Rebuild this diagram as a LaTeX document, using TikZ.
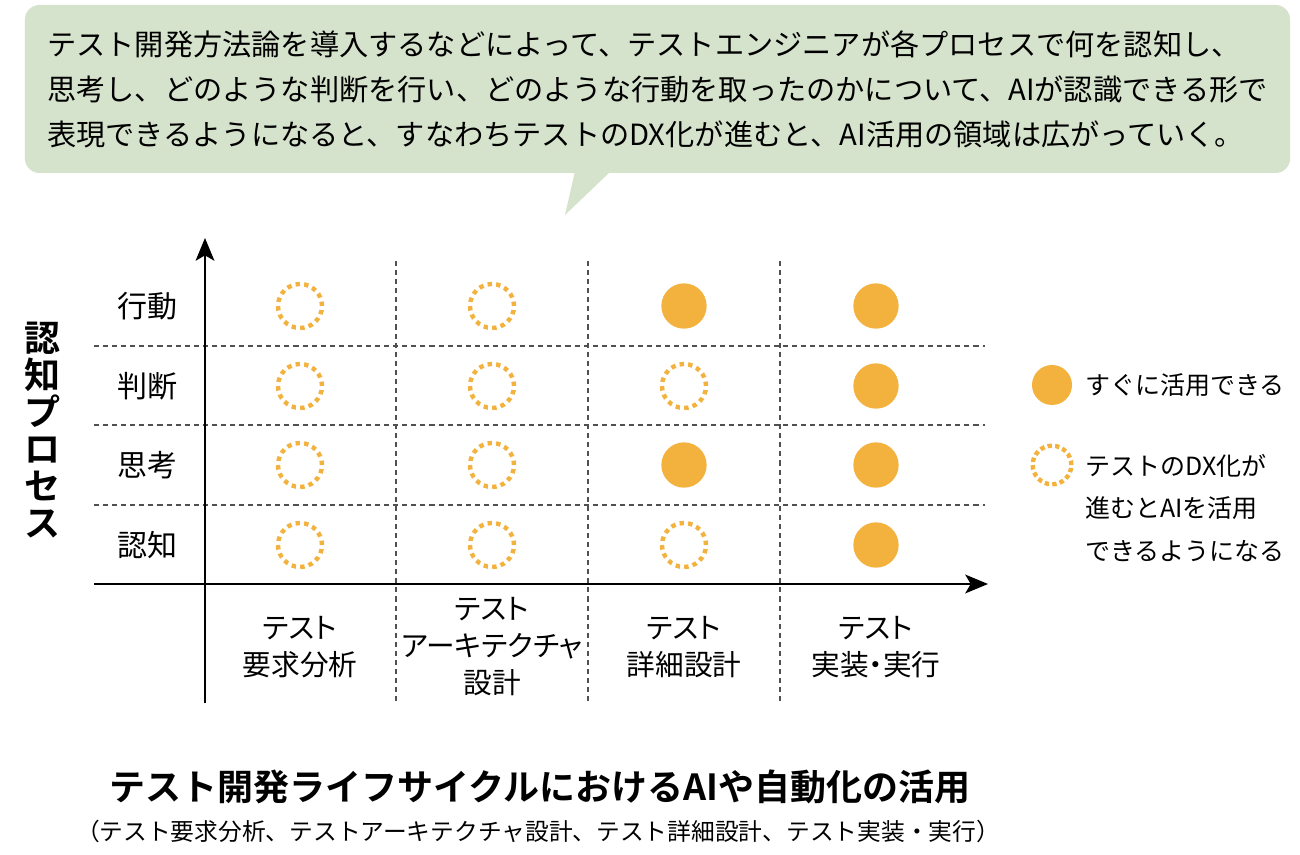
\documentclass[tikz,border=0pt]{standalone}
\usepackage{fontspec}
\setmainfont{Noto Sans CJK JP}[BoldFont={Noto Sans CJK JP Bold}]
\newfontfamily\palttext{Noto Sans CJK JP}[RawFeature=+palt]
\usetikzlibrary{arrows.meta,positioning}
\definecolor{bubblegreen}{RGB}{214,227,204}
\definecolor{dotorange}{RGB}{242,178,61}
\definecolor{gridgray}{RGB}{80,80,80}

\tikzset{
  axisline/.style={line width=1.9pt, -{Stealth[length=17pt,width=14pt,inset=4pt]}},
  gridline/.style={gridgray, line width=1pt, dash pattern=on 3.8pt off 3pt},
  usenow/.style={circle, fill=dotorange, minimum size=34pt, inner sep=0pt},
  dxlater/.style={circle, draw=dotorange, line width=3.3pt, minimum size=33pt, inner sep=0pt,
    dash pattern=on 3.3pt off 3.18pt},
  rowlabel/.style={font=\fontsize{22.5pt}{27pt}\selectfont, inner sep=0pt},
  collabel/.style={font=\palttext\fontsize{21.5pt}{27.75pt}\selectfont, align=center, inner sep=0pt},
  legtext/.style={font=\fontsize{18.75pt}{32pt}\selectfont, align=left, inner sep=0pt, anchor=west}
}

\begin{document}
\begin{tikzpicture}[x=0.75pt,y=-0.75pt]
    \useasboundingbox (0,0) rectangle (1300,855);

    % Speech bubble
    \node[fill=bubblegreen, rounded corners=11pt, minimum width=949pt, minimum height=126pt,
          align=left, font=\fontsize{21.9pt}{33.75pt}\selectfont] (note) at (657.5,89)
      {テスト開発方法論を導入するなどによって、テストエンジニアが各プロセスで何を認知し、\\
       思考し、どのような判断を行い、どのような行動を取ったのかについて、AIが認識できる形で\\
       表現できるようになると、すなわちテストのDX化が進むと、AI活用の領域は広がっていく。};
    \coordinate (tailtip) at (565,215);
    \fill[bubblegreen] ([xshift=-62pt,yshift=1pt]note.south) -- (tailtip)
        -- ([xshift=-35.6pt,yshift=1pt]note.south) -- cycle;

    % Grid
    \foreach \gy in {346,425,505} {
        \draw[gridline] (94,\gy) -- (985,\gy);
    }
    \foreach \gx in {396,588,780} {
        \draw[gridline] (\gx,261) -- (\gx,703);
    }

    % Axes
    \coordinate (ybot) at (205,703);
    \coordinate (ytop) at (205,238);
    \coordinate (xleft) at (94,584);
    \coordinate (xright) at (988,584);
    \draw[axisline] (ybot) -- (ytop);
    \draw[axisline] (xleft) -- (xright);

    % Circles
    \foreach \c/\cx in {1/300,2/492,3/684,4/876} {
        \foreach \r/\ry in {1/306,2/386,3/465,4/545} {
            \pgfmathparse{int(\c==4 || (\c==3 && mod(\r,2)==1))}
            \ifnum\pgfmathresult=1
                \node[usenow] (cell\c\r) at (\cx,\ry) {};
            \else
                \node[dxlater] (cell\c\r) at (\cx,\ry) {};
            \fi
        }
    }

    % Row labels
    \foreach \lbl/\ry in {行動/306,判断/386,思考/465,認知/545} {
        \node[rowlabel] (row\ry) at (147,\ry) {\lbl};
    }
    \node[font=\fontsize{27pt}{27.75pt}\selectfont\bfseries, align=center, inner sep=0pt]
        (ytitle) at (42,430) {認\\知\\プ\\ロ\\セ\\ス};

    % Column labels
    \node[collabel] (col1) at (300,647) {テスト\\要求分析};
    \node[collabel] (col2) at (492,647) {テスト\\アーキテクチャ\\設計};
    \node[collabel] (col3) at (684,647) {テスト\\詳細設計};
    \node[collabel] (col4) at (876,647) {テスト\\実装・実行};

    % Legend
    \node[usenow, minimum size=30pt] (legfill) at (1052,385) {};
    \node[legtext] (legfilltext) at (1085,385) {すぐに活用できる};
    \node[dxlater, minimum size=29pt, dash pattern=on 3.3pt off 2.4pt] (legdot) at (1052,465) {};
    \node[legtext] (legdottext) at (1085,508) {テストのDX化が\\進むとAIを活用\\できるようになる};

    % Caption
    \node[font=\fontsize{27pt}{30pt}\selectfont\bfseries, inner sep=0pt] (title) at (540,787)
        {テスト開発ライフサイクルにおけるAIや自動化の活用};
    \node[font=\fontsize{17.8pt}{20pt}\selectfont, inner sep=0pt] (subtitle) at (538,831)
        {（テスト要求分析、テストアーキテクチャ設計、テスト詳細設計、テスト実装・実行）};
\end{tikzpicture}
\end{document}
